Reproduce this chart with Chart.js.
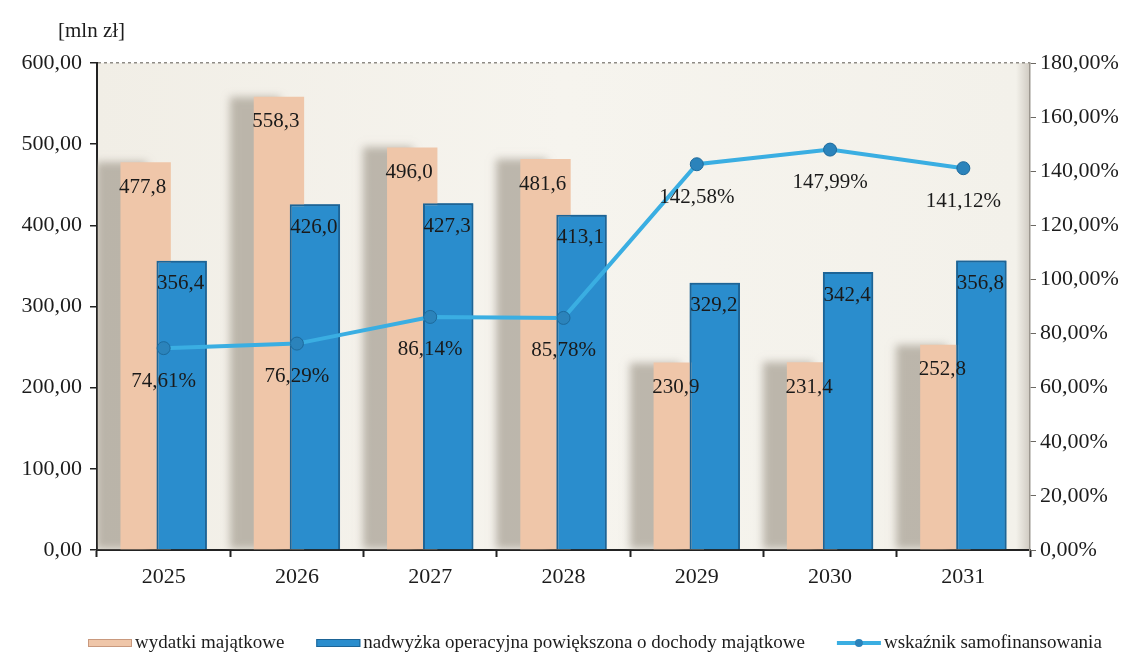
<!DOCTYPE html>
<html>
<head>
<meta charset="utf-8">
<script src="https://cdn.jsdelivr.net/npm/chart.js@4/dist/chart.umd.min.js"></script>
<style>
  html, body { margin: 0; padding: 0; background: #fff; }
  #wrap { width: 1138px; height: 659px; position: relative; }
</style>
</head>
<body>
<div id="wrap"><canvas id="finChart"></canvas></div>
<script>
// lata prognozy
const years = ["2025", "2026", "2027", "2028", "2029", "2030", "2031"];
// wydatki majątkowe [mln zł]
const capitalSpending = [477.8, 558.3, 496.0, 481.6, 230.9, 231.4, 252.8];
// nadwyżka operacyjna powiększona o dochody majątkowe [mln zł]
const operatingSurplus = [356.4, 426.0, 427.3, 413.1, 329.2, 342.4, 356.8];
// wskaźnik samofinansowania [%]
const selfFinancing = [74.61, 76.29, 86.14, 85.78, 142.58, 147.99, 141.12];

const FONT = "'Liberation Serif', 'DejaVu Serif', serif";

function fmt(v, d) {
  return v.toFixed(d).replace(".", ",");
}

// tło obszaru wykresu (ściana 3D) i jednostka osi
const backdrop = {
  id: "backdrop",
  beforeDraw(chart) {
    const { ctx, chartArea: a } = chart;
    ctx.save();
    const g = ctx.createLinearGradient(a.left, 0, a.right, 0);
    g.addColorStop(0, "#f1eee6");
    g.addColorStop(0.5, "#f6f4ee");
    g.addColorStop(0.985, "#f3f1ea");
    g.addColorStop(1, "#cfcac1");
    ctx.fillStyle = g;
    ctx.fillRect(a.left, a.top, a.right - a.left, a.bottom - a.top);
    ctx.fillStyle = "#1c1c1c";
    ctx.font = "21px " + FONT;
    ctx.textBaseline = "middle";
    ctx.textAlign = "left";
    ctx.fillText("[mln zł]", a.left - 39, 31);
    ctx.restore();
  }
};

// cień słupków wydatków, słupki nadwyżki rysowane na wierzchu
const barDepth = {
  id: "barDepth",
  beforeDatasetDraw(chart, args) {
    if (args.index !== 0) return;
    const ctx = chart.ctx;
    ctx.save();
    ctx.shadowColor = "rgba(150, 142, 128, 0.6)";
    ctx.shadowOffsetX = -24;
    ctx.shadowOffsetY = 0;
    ctx.shadowBlur = 8;
  },
  afterDatasetDraw(chart, args) {
    if (args.index !== 0) return;
    chart.ctx.restore();
    chart.getDatasetMeta(1).controller.draw();
  }
};

// etykiety wartości
const valueLabels = {
  id: "valueLabels",
  afterDatasetsDraw(chart) {
    const ctx = chart.ctx;
    ctx.save();
    ctx.font = "21px " + FONT;
    ctx.fillStyle = "#1a1a1a";
    ctx.textAlign = "center";
    ctx.textBaseline = "middle";
    chart.getDatasetMeta(0).data.forEach((bar, i) => {
      ctx.fillText(fmt(capitalSpending[i], 1), bar.x - 3, bar.y + 25);
    });
    chart.getDatasetMeta(1).data.forEach((bar, i) => {
      ctx.fillText(fmt(operatingSurplus[i], 1), bar.x - 1, bar.y + 23);
    });
    chart.getDatasetMeta(2).data.forEach((pt, i) => {
      ctx.fillText(fmt(selfFinancing[i], 2) + "%", pt.x, pt.y + 33);
    });
    ctx.restore();
  }
};

// legenda pod wykresem
const bottomLegend = {
  id: "bottomLegend",
  afterDraw(chart) {
    const { ctx, chartArea: a } = chart;
    const y = 643;
    const symW = 44, gap = 3, spacing = 32;
    ctx.save();
    ctx.font = "19px " + FONT;
    ctx.textBaseline = "middle";
    ctx.textAlign = "left";
    let x = a.left - 9;
    chart.data.datasets.forEach(ds => {
      if (ds.type === "line") {
        ctx.strokeStyle = ds.borderColor;
        ctx.lineWidth = 4;
        ctx.beginPath();
        ctx.moveTo(x, y);
        ctx.lineTo(x + symW, y);
        ctx.stroke();
        ctx.fillStyle = ds.pointBackgroundColor;
        ctx.beginPath();
        ctx.arc(x + symW / 2, y, 4, 0, Math.PI * 2);
        ctx.fill();
      } else {
        ctx.fillStyle = ds.backgroundColor;
        ctx.fillRect(x, y - 4, symW, 8);
        ctx.strokeStyle = ds.legendEdge;
        ctx.lineWidth = 1;
        ctx.strokeRect(x + 0.5, y - 3.5, symW - 1, 7);
      }
      x += symW + gap;
      ctx.fillStyle = "#1c1c1c";
      ctx.fillText(ds.label, x, y);
      x += ctx.measureText(ds.label).width + spacing;
    });
    ctx.restore();
  }
};

new Chart(document.getElementById("finChart"), {
  type: "bar",
  data: {
    labels: years,
    datasets: [
      {
        label: "wydatki majątkowe",
        data: capitalSpending,
        backgroundColor: "#efc6a9",
        borderWidth: 0,
        legendEdge: "#c9997e",
        categoryPercentage: 0.54,
        barPercentage: 1.4,
        yAxisID: "y"
      },
      {
        label: "nadwyżka operacyjna powiększona o dochody majątkowe",
        data: operatingSurplus,
        backgroundColor: "#2a8dcd",
        borderColor: "#1d6496",
        borderWidth: 2,
        legendEdge: "#1d6496",
        categoryPercentage: 0.54,
        barPercentage: 1.4,
        yAxisID: "y"
      },
      {
        type: "line",
        label: "wskaźnik samofinansowania",
        data: selfFinancing,
        order: -1,
        borderColor: "#3aaee2",
        backgroundColor: "#3aaee2",
        borderWidth: 4,
        tension: 0,
        pointRadius: 6.5,
        pointBackgroundColor: "#2b83bb",
        pointBorderColor: "#1d6a9c",
        pointBorderWidth: 1,
        yAxisID: "y1"
      }
    ]
  },
  options: {
    responsive: true,
    maintainAspectRatio: false,
    animation: false,
    layout: { padding: { top: 63, left: 0, right: 0, bottom: 61 } },
    plugins: {
      legend: { display: false },
      tooltip: { enabled: false }
    },
    scales: {
      x: {
        afterFit(scale) { scale.height = 48; },
        border: { display: true, color: "#222", width: 2 },
        grid: {
          offset: true,
          drawOnChartArea: false,
          tickLength: 7,
          tickColor: "#222",
          tickWidth: 2
        },
        ticks: {
          font: { family: FONT, size: 22 },
          color: "#1c1c1c",
          padding: 7
        }
      },
      y: {
        position: "left",
        min: 0,
        max: 600,
        afterFit(scale) { scale.width = 97; },
        border: { display: true, color: "#222", width: 2, dash: [3, 3] },
        grid: {
          color: ctx => ctx.tick && ctx.tick.value === 600 ? "#8f8c86" : "rgba(0,0,0,0)",
          tickColor: "#222",
          tickLength: 7,
          tickWidth: 1.5,
          tickBorderDash: [],
          lineWidth: 1.5
        },
        ticks: {
          stepSize: 100,
          font: { family: FONT, size: 22 },
          color: "#1c1c1c",
          padding: 8,
          callback: v => fmt(v, 2)
        }
      },
      y1: {
        position: "right",
        min: 0,
        max: 180,
        afterFit(scale) { scale.width = 108; },
        border: { display: true, color: "#9c978f", width: 1.5 },
        grid: {
          drawOnChartArea: false,
          tickColor: "#6b6863",
          tickLength: 6,
          tickWidth: 1
        },
        ticks: {
          stepSize: 20,
          font: { family: FONT, size: 22 },
          color: "#1c1c1c",
          padding: 4,
          callback: v => fmt(v, 2) + "%"
        }
      }
    }
  },
  plugins: [backdrop, barDepth, valueLabels, bottomLegend]
});
</script>
</body>
</html>
